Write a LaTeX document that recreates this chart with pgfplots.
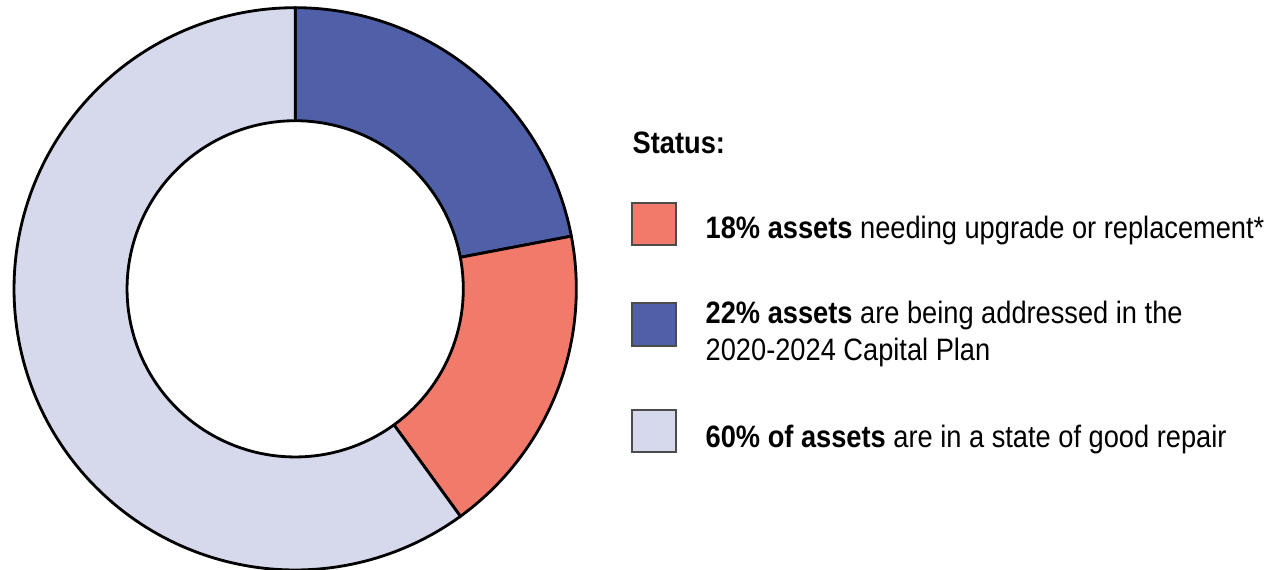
\documentclass[border=0pt]{standalone}
\usepackage{pgfplots}
\usepackage{pgfplotstable}
\pgfplotsset{compat=1.18}
\usepackage{fontspec}
\setmainfont{Liberation Sans}[FakeStretch=0.88]

\definecolor{segblue}{HTML}{4F5FA8}
\definecolor{segred}{HTML}{F27A6B}
\definecolor{seglight}{HTML}{D6D9EC}

% shares in percent, clockwise from 12 o'clock
\pgfplotstableread{
share
22
18
60
}\donutdata

\begin{document}
\begin{tikzpicture}[x=0.01cm,y=0.01cm]
\useasboundingbox (0,0) rectangle (1267,569);
\pgfplotstablegetelem{0}{share}\of\donutdata \let\sA\pgfplotsretval
\pgfplotstablegetelem{1}{share}\of\donutdata \let\sB\pgfplotsretval
\pgfplotstablegetelem{2}{share}\of\donutdata \let\sC\pgfplotsretval
\pgfmathsetmacro{\aA}{90}
\pgfmathsetmacro{\aB}{\aA-3.6*\sA}
\pgfmathsetmacro{\aC}{\aB-3.6*\sB}
\pgfmathsetmacro{\aD}{\aC-3.6*\sC}
\begin{axis}[hide axis, scale only axis, width=5.62cm, height=5.62cm,
  xmin=-1, xmax=1, ymin=-1, ymax=1,
  at={(2.95cm,2.80cm)}, anchor=center, clip=false]
  \addplot[fill=segblue, draw=black, line width=0.8pt, domain=\aB:\aA, samples=80, variable=\t]
    ({cos(t)},{sin(t)}) -- (0,0) -- cycle;
  \addplot[fill=segred, draw=black, line width=0.8pt, domain=\aC:\aB, samples=80, variable=\t]
    ({cos(t)},{sin(t)}) -- (0,0) -- cycle;
  \addplot[fill=seglight, draw=black, line width=0.8pt, domain=\aD:\aC, samples=160, variable=\t]
    ({cos(t)},{sin(t)}) -- (0,0) -- cycle;
  % hole
  \addplot[fill=white, draw=black, line width=0.8pt, domain=0:360, samples=160, variable=\t]
    ({0.598*cos(t)},{0.598*sin(t)}) -- cycle;
\end{axis}

\fontsize{8.8pt}{10.5pt}\selectfont
\node[anchor=base west, inner sep=0pt, font=\bfseries] at (632,416) {Status:};

\filldraw[fill=segred, draw=black!70, line width=0.4pt] (632,366) rectangle (676,324);
\node[anchor=base west, inner sep=0pt] at (705,331) {\textbf{18\% assets} needing upgrade or replacement*};

\filldraw[fill=segblue, draw=black!70, line width=0.4pt] (632,266) rectangle (676,223);
\node[anchor=base west, inner sep=0pt] at (705,246) {\textbf{22\% assets} are being addressed in the};
\node[anchor=base west, inner sep=0pt] at (705,209) {2020-2024 Capital Plan};

\filldraw[fill=seglight, draw=black!70, line width=0.4pt] (632,159) rectangle (676,117);
\node[anchor=base west, inner sep=0pt] at (705,122) {\textbf{60\% of assets} are in a state of good repair};
\end{tikzpicture}
\end{document}
